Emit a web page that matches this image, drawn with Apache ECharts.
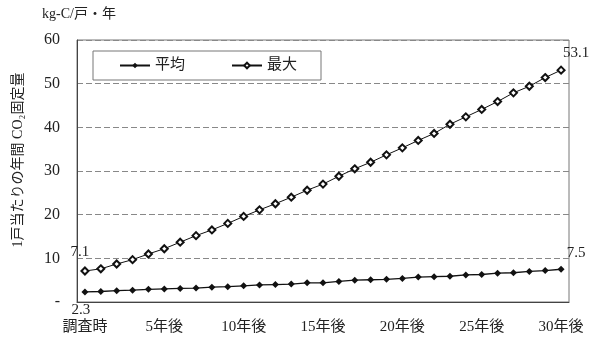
<!DOCTYPE html>
<html style="height: 100%">
<head>
  <meta charset="UTF-8">
  <title>CO2 fixed per household</title>
  <script src="https://cdn.jsdelivr.net/npm/echarts@6/dist/echarts.min.js"></script>
  <style>
    body { margin: 0; height: 100%; background: #fff; }
    #main { width: 602px; height: 339px; }
  </style>
</head>
<body>
  <div id="main"></div>
  <script>
    // x categories: survey time, then 1..30 years later
    const years = ['調査時'];
    for (let i = 1; i <= 30; i++) years.push(i + '年後');

    const avgValues = [2.3, 2.4, 2.6, 2.7, 2.9, 3.0, 3.1, 3.2, 3.4, 3.5, 3.7,
      3.9, 4.0, 4.1, 4.4, 4.4, 4.7, 5.0, 5.1, 5.2, 5.4,
      5.7, 5.8, 5.9, 6.2, 6.3, 6.6, 6.7, 7.0, 7.2, 7.5];
    const maxValues = [7.1, 7.6, 8.7, 9.7, 11.0, 12.2, 13.7, 15.2, 16.5, 18.0, 19.6,
      21.1, 22.5, 24.0, 25.6, 27.0, 28.8, 30.5, 32.0, 33.7, 35.3,
      37.0, 38.6, 40.7, 42.4, 44.1, 45.9, 47.9, 49.4, 51.4, 53.1];

    const serif = '"Liberation Serif", "Noto Sans CJK JP", serif';
    const textStyle = { color: '#222', fontFamily: serif, fontSize: 15 };

    // tag first and last points with their value
    function withEndLabels(values, firstOffset, lastOffset) {
      return values.map((v, i) => {
        if (i === 0 || i === values.length - 1) {
          return {
            value: v,
            label: {
              show: true, position: 'inside',
              offset: i === 0 ? firstOffset : lastOffset,
              formatter: String(v),
              ...textStyle
            }
          };
        }
        return v;
      });
    }

    const chart = echarts.init(document.getElementById('main'));
    chart.setOption({
      animation: false,
      textStyle: { fontFamily: serif },
      grid: {
        left: 77, right: 33, top: 40, bottom: 37,
        show: true, borderColor: '#777', borderWidth: 1
      },
      legend: {
        left: 93, top: 51,
        padding: [7, 24, 7, 26],
        itemGap: 46, itemWidth: 30, itemHeight: 7,
        borderColor: '#777', borderWidth: 1,
        backgroundColor: '#fff',
        textStyle: { ...textStyle, fontSize: 15 },
        data: ['平均', '最大']
      },
      graphic: [
        {
          type: 'text', left: 42, top: 7,
          style: { text: 'kg-C/戸・年', ...textStyle, fill: '#222', fontSize: 14 }
        },
        {
          type: 'text', x: 18, y: 160, rotation: Math.PI / 2,
          style: {
            text: '1戸当たりの年間 CO₂固定量',
            fill: '#222', fontFamily: serif, fontSize: 14,
            align: 'center', verticalAlign: 'middle'
          }
        }
      ],
      xAxis: {
        type: 'category',
        data: years,
        boundaryGap: true,
        axisLine: { lineStyle: { color: '#444' } },
        axisTick: { interval: 4, inside: true, length: 5, lineStyle: { color: '#666' } },
        axisLabel: { interval: 4, margin: 18, ...textStyle }
      },
      yAxis: {
        type: 'value',
        min: 0, max: 60, interval: 10,
        axisLine: { show: true, lineStyle: { color: '#444' } },
        axisTick: { show: false },
        axisLabel: {
          margin: 17, ...textStyle, fontSize: 16,
          formatter: v => (v === 0 ? '-' : v)
        },
        splitLine: { lineStyle: { color: '#888', type: [6, 3], width: 1 } }
      },
      series: [
        {
          name: '平均', type: 'line',
          data: withEndLabels(avgValues, [-4, 18], [15, -16]),
          symbol: 'diamond', symbolSize: 7,
          itemStyle: { color: '#111' },
          lineStyle: { color: '#111', width: 1.3 }
        },
        {
          name: '最大', type: 'line',
          data: withEndLabels(maxValues, [-5, -19], [15, -17]),
          symbol: 'emptyDiamond', symbolSize: 7,
          itemStyle: { color: '#111', borderWidth: 1, borderColor: '#111' },
          lineStyle: { color: '#111', width: 1 }
        }
      ]
    });
  </script>
</body>
</html>
